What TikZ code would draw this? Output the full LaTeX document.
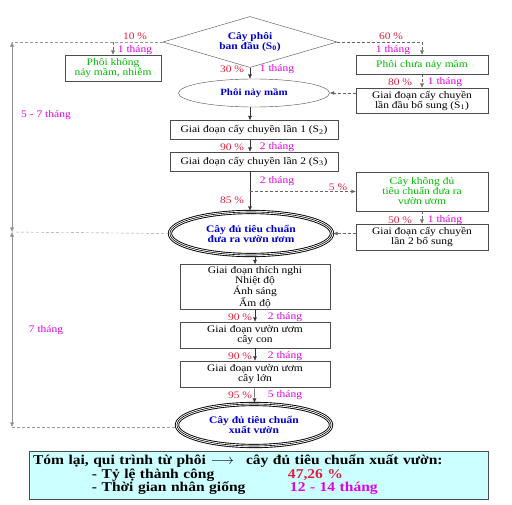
\documentclass[tikz,border=0pt]{standalone}
\usepackage{fontspec}
\setmainfont{Liberation Serif}[FakeStretch=1.15]
\usepackage{xcolor}
\usepackage{tikz}
\usetikzlibrary{arrows, arrows.meta, shapes}
\definecolor{pct}{RGB}{225,30,60}
\definecolor{month}{RGB}{225,0,225}
\definecolor{leaf}{RGB}{0,185,0}
\definecolor{titleblue}{RGB}{0,0,205}
\definecolor{summ}{RGB}{204,255,255}
\newcommand{\boxfont}{\fontsize{10}{10}\selectfont}

\begin{document}
\begin{tikzpicture}[x=1pt, y=-1pt, >={Latex[length=4.5pt,width=4pt]},
  stage/.style={draw=black!70, align=center, inner sep=1pt, font=\boxfont},
  seedbox/.style={diamond, draw=black!70, shape aspect=3.4, inner sep=0pt, align=center, text=titleblue, font=\bfseries\boxfont},
  sprout/.style={ellipse, draw=black!70, inner sep=0pt, align=center, text=titleblue, font=\bfseries\fontsize{9.5}{10}\selectfont},
  goal/.style={ellipse, draw=white, line width=2.4pt, preaction={draw=black, line width=4.2pt}, postaction={draw=black, line width=0.6pt}, inner sep=0pt, align=center, text=titleblue, font=\bfseries\boxfont},
  flow/.style={->, draw=black!80},
  side/.style={->, densely dashed, draw=black!60},
  guide/.style={densely dashed, draw=black!40},
  span/.style={<->, draw=black!45},
  rate/.style={text=pct, inner sep=0pt, font=\boxfont},
  time/.style={text=month, inner sep=0pt, font=\boxfont}]

\useasboundingbox (0,0) rectangle (512,504);

\node [seedbox, minimum width=174, minimum height=51] (seed) at (250,42) {Cây phôi\\ ban đầu (S\textsubscript{0})};
\node [stage, text=leaf, minimum width=96, minimum height=26] (dead) at (113,68) {Phôi không\\ nảy mầm, nhiễm};
\node [stage, text=leaf, minimum width=132, minimum height=19] (dormant) at (422,64.5) {Phôi chưa nảy mầm};
\node [stage, minimum width=132, minimum height=25] (sub1) at (422,100.5) {Giai đoạn cấy chuyền\\ lần đầu bổ sung (S\textsubscript{1})};
\node [sprout, minimum width=151, minimum height=28] (sprout) at (254,93) {Phôi nảy mầm};
\node [stage, minimum width=168, minimum height=19] (sub2) at (254,130) {Giai đoạn cấy chuyền lần 1 (S\textsubscript{2})};
\node [stage, minimum width=168, minimum height=19] (sub3) at (254,161.5) {Giai đoạn cấy chuyền lần 2 (S\textsubscript{3})};
\node [stage, text=leaf, minimum width=132, minimum height=39] (unfit) at (422,191.5) {Cây không đủ\\ tiêu chuẩn đưa ra\\ vườn ươm};
\node [stage, minimum width=132, minimum height=26] (resub) at (422,237) {Giai đoạn cấy chuyền\\ lần 2 bổ sung};
\node [goal, minimum width=162, minimum height=43] (ready) at (251,233.5) {Cây đủ tiêu chuẩn\\ đưa ra vườn ươm};
\node [stage, minimum width=150, minimum height=45] (adapt) at (255,287) {Giai đoạn thích nghi\\ Nhiệt độ\\ Ánh sáng\\ Ẩm độ};
\node [stage, minimum width=150, minimum height=26] (young) at (255,335) {Giai đoạn vườn ươm\\ cây con};
\node [stage, minimum width=150, minimum height=26] (grown) at (255,374) {Giai đoạn vườn ươm\\ cây lớn};
\node [goal, minimum width=154, minimum height=42] (final) at (254,425) {Cây đủ tiêu chuẩn\\ xuất vườn};

\draw [flow] (seed.south) -- (sprout.north -| seed.south);
\draw [flow] (sprout.south -| seed.south) -- (sub2.north -| seed.south);
\draw [flow] (sub2.south -| seed.south) -- (sub3.north -| seed.south);
\draw [flow] (sub3.south -| seed.south) -- (ready.north -| seed.south);
\draw [flow] (ready.south -| adapt.north) -- (adapt.north);
\draw [flow] (adapt) -- (young);
\draw [flow] (young) -- (grown);
\draw [flow] (grown) -- (final);

\coordinate (t1) at (12,42);
\coordinate (t2) at (12,232);
\coordinate (t3) at (12,427);
\draw [guide] (seed.west) -- (t1);
\draw [guide] (ready.west) -- (t2);
\draw [guide] (t3) -- (final.west |- t3);
\draw [span] (t1) -- (t2);
\draw [span] (t2) -- (t3);

\draw [side] (seed.west -| dead.north) -- (dead.north);
\draw [side] (seed.east) -| (dormant.north);
\draw [side] (dormant) -- (sub1);
\draw [side] (sub1.west |- sprout.east) -- (sprout.east);
\draw [side] (unfit.west -| seed.south) -- (unfit.west);
\draw [side] (unfit) -- (resub);
\draw [side] (resub.west |- ready.east) -- (ready.east);

\node [rate] (r10) at (135,36) {10 \%};
\node [time] (m10) at (135,50) {1 tháng};
\node [rate] (r60) at (391,36) {60 \%};
\node [time] (m60) at (393,50) {1 tháng};
\node [rate] (r30) at (232,69) {30 \%};
\node [time] (m30) at (277,69) {1 tháng};
\node [rate] (r80) at (400,82) {80 \%};
\node [time] (m80) at (445,82) {1 tháng};
\node [rate] (r90a) at (232,147) {90 \%};
\node [time] (m90a) at (277,147) {2 tháng};
\node [time] (m85) at (277,181) {2 tháng};
\node [rate] (r5) at (338,187) {5 \%};
\node [rate] (r85) at (232,200) {85 \%};
\node [rate] (r50) at (400,220) {50 \%};
\node [time] (m50) at (445,220) {1 tháng};
\node [rate] (r90b) at (240,317) {90 \%};
\node [time] (m90b) at (285,317) {2 tháng};
\node [rate] (r90c) at (240,356) {90 \%};
\node [time] (m90c) at (285,356) {2 tháng};
\node [rate] (r95) at (240,395) {95 \%};
\node [time] (m95) at (285,395) {5 tháng};
\node [time] (upper) at (46,115) {5 - 7 tháng};
\node [time] (lower) at (46,330) {7 tháng};

\node [draw=black!70, fill=summ, minimum width=459, minimum height=40, text width=451pt, inner sep=4pt, align=left, font=\bfseries\fontsize{13.5}{13.5}\selectfont] (sum) at (258.5,475) {Tóm lại, qui trình từ phôi\hspace{5pt}$\longrightarrow$\hspace{12pt}cây đủ tiêu chuẩn xuất vườn:\\
\hspace*{59pt}\makebox[196pt][l]{- Tỷ lệ thành công}\textcolor{pct}{47,26 \%}\\
\hspace*{59pt}\makebox[198pt][l]{- Thời gian nhân giống}\textcolor{month}{12 - 14 tháng}};
\end{tikzpicture}
\end{document}
